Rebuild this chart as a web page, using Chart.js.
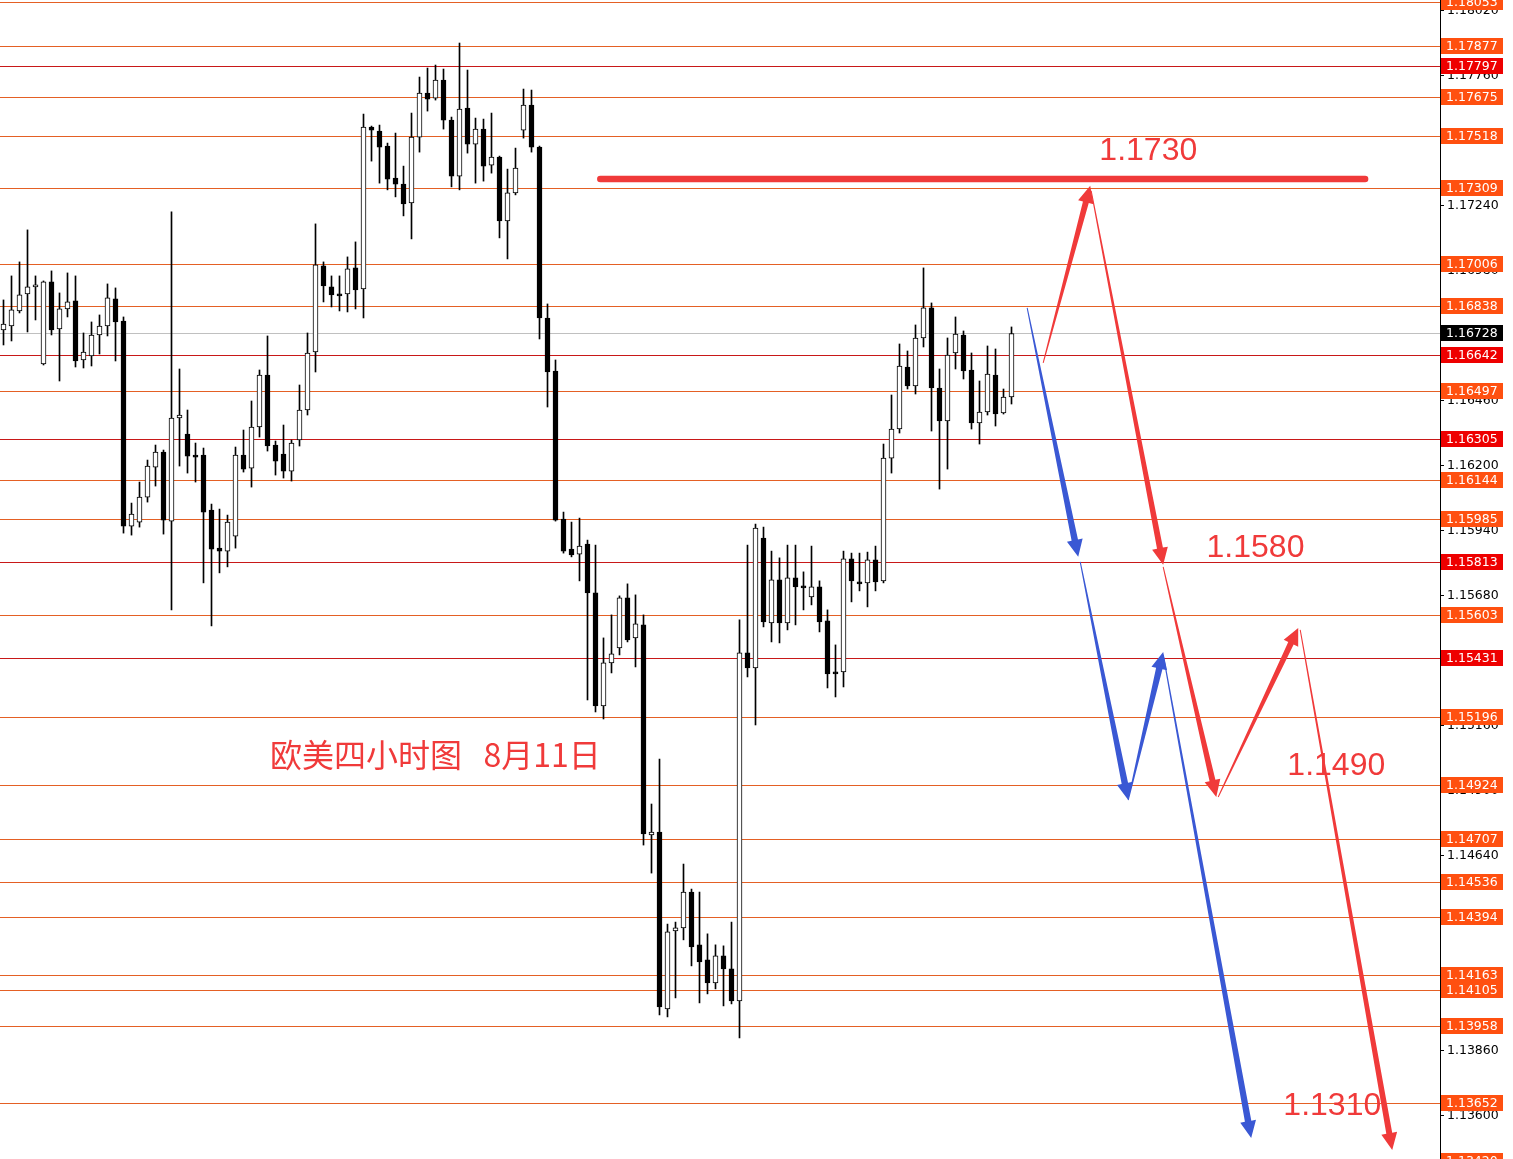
<!DOCTYPE html>
<html><head><meta charset="utf-8">
<script src="https://cdn.jsdelivr.net/npm/chart.js@4.4.1/dist/chart.umd.min.js"></script>
<style>html,body{margin:0;padding:0;background:#fff;overflow:hidden}#wrap{position:relative;width:1513px;height:1159px}</style>
</head><body><div id="wrap"><canvas id="c"></canvas></div>
<script>
// ---- data ----
const categories = Array.from({length: 127}, (_, i) => i); // candle index (4H bars)
const open = [1.16742,1.16758,1.16818,1.16886,1.16914,1.16606,1.16934,1.16746,1.16826,1.16858,
1.16622,1.16638,1.16722,1.16758,1.16866,1.16778,1.15958,1.15974,1.16074,1.16194,
1.16254,1.15978,1.16390,1.16326,1.16242,1.16242,1.16022,1.15870,1.15858,1.15918,
1.16242,1.16190,1.16354,1.16562,1.16282,1.16246,1.16178,1.16302,1.16422,1.16654,
1.16998,1.16914,1.16886,1.16886,1.16990,1.16906,1.17553,1.17537,1.17477,1.17349,
1.17325,1.17250,1.17513,1.17689,1.17669,1.17741,1.17581,1.17357,1.17629,1.17485,
1.17545,1.17401,1.17433,1.17178,1.17290,1.17541,1.17641,1.17473,1.16790,1.16578,
1.15986,1.15866,1.15846,1.15886,1.15691,1.15239,1.15411,1.15471,1.15671,1.15511,
1.15563,1.14723,1.14735,1.14028,1.14340,1.14352,1.14495,1.14284,1.14224,1.14132,
1.14240,1.14188,1.14060,1.15451,1.15391,1.15910,1.15571,1.15743,1.15571,1.15751,
1.15719,1.15675,1.15715,1.15579,1.15375,1.15375,1.15827,1.15735,1.15731,1.15823,
1.15739,1.16230,1.16346,1.16594,1.16518,1.16710,1.16830,1.16510,1.16378,1.16650,
1.16722,1.16582,1.16370,1.16414,1.16562,1.16410,1.16474];
const high = [1.16862,1.16958,1.17014,1.17142,1.16958,1.16938,1.16978,1.16890,1.16970,1.16958,
1.16730,1.16774,1.16802,1.16926,1.16910,1.16794,1.16050,1.16134,1.16222,1.16282,
1.16262,1.17214,1.16586,1.16422,1.16290,1.16270,1.16046,1.16026,1.16002,1.16274,
1.16342,1.16458,1.16582,1.16718,1.16298,1.16362,1.16302,1.16522,1.16730,1.17166,
1.17014,1.16958,1.16958,1.17034,1.17094,1.17605,1.17557,1.17561,1.17489,1.17529,
1.17397,1.17609,1.17753,1.17789,1.17801,1.17785,1.17593,1.17889,1.17781,1.17589,
1.17585,1.17609,1.17437,1.17385,1.17469,1.17705,1.17701,1.17477,1.16846,1.16622,
1.16014,1.15974,1.15990,1.15902,1.15882,1.15511,1.15603,1.15679,1.15727,1.15683,
1.15603,1.14847,1.15027,1.14367,1.14375,1.14607,1.14507,1.14495,1.14328,1.14284,
1.14280,1.14375,1.15583,1.15882,1.15966,1.15954,1.15858,1.15831,1.15882,1.15882,
1.15775,1.15878,1.15739,1.15623,1.15483,1.15858,1.15850,1.15850,1.15854,1.15878,
1.16286,1.16482,1.16686,1.16658,1.16762,1.16990,1.16850,1.16586,1.16710,1.16794,
1.16738,1.16650,1.16538,1.16678,1.16666,1.16506,1.16754];
const low = [1.16682,1.16698,1.16810,1.16734,1.16782,1.16602,1.16722,1.16538,1.16794,1.16594,
1.16590,1.16598,1.16646,1.16718,1.16618,1.15930,1.15922,1.15954,1.16054,1.16118,
1.15926,1.15623,1.16198,1.16170,1.16134,1.15731,1.15559,1.15771,1.15795,1.15870,
1.16174,1.16114,1.16314,1.16258,1.16162,1.16150,1.16138,1.16278,1.16402,1.16574,
1.16854,1.16834,1.16818,1.16814,1.16826,1.16790,1.17417,1.17329,1.17302,1.17274,
1.17198,1.17106,1.17453,1.17617,1.17661,1.17545,1.17314,1.17302,1.17449,1.17329,
1.17337,1.17369,1.17110,1.17026,1.17282,1.17509,1.17453,1.16706,1.16434,1.15978,
1.15850,1.15835,1.15739,1.15263,1.15215,1.15187,1.15371,1.15443,1.15495,1.15395,
1.14683,1.14571,1.14004,1.13996,1.14072,1.14304,1.14200,1.14052,1.14088,1.14108,
1.14040,1.14048,1.13912,1.15355,1.15163,1.15555,1.15495,1.15491,1.15543,1.15563,
1.15623,1.15643,1.15535,1.15311,1.15275,1.15315,1.15655,1.15699,1.15635,1.15699,
1.15731,1.16170,1.16330,1.16506,1.16486,1.16674,1.16338,1.16106,1.16186,1.16586,
1.16546,1.16346,1.16286,1.16402,1.16358,1.16406,1.16446];
const close = [1.16766,1.16822,1.16882,1.16914,1.16922,1.16934,1.16742,1.16826,1.16854,1.16618,
1.16654,1.16722,1.16758,1.16870,1.16774,1.15958,1.16006,1.16074,1.16198,1.16254,
1.15982,1.16390,1.16402,1.16238,1.16234,1.16014,1.15866,1.15858,1.15974,1.16242,
1.16186,1.16354,1.16562,1.16278,1.16218,1.16178,1.16290,1.16422,1.16650,1.17002,
1.16918,1.16882,1.16878,1.16986,1.16902,1.17553,1.17541,1.17473,1.17345,1.17325,
1.17246,1.17513,1.17689,1.17665,1.17741,1.17581,1.17357,1.17625,1.17485,1.17545,
1.17397,1.17433,1.17178,1.17290,1.17389,1.17641,1.17473,1.16790,1.16574,1.15982,
1.15858,1.15843,1.15878,1.15691,1.15239,1.15411,1.15447,1.15671,1.15503,1.15567,
1.14727,1.14735,1.14036,1.14336,1.14352,1.14495,1.14276,1.14216,1.14132,1.14240,
1.14188,1.14060,1.15451,1.15391,1.15950,1.15575,1.15743,1.15571,1.15751,1.15715,
1.15711,1.15715,1.15575,1.15367,1.15367,1.15827,1.15739,1.15727,1.15823,1.15735,
1.16230,1.16346,1.16598,1.16518,1.16710,1.16830,1.16510,1.16378,1.16642,1.16726,
1.16578,1.16370,1.16414,1.16566,1.16406,1.16474,1.16728];

const levels = [1.18053,1.17877,1.17797,1.17675,1.17518,1.17309,1.17006,1.16838,1.16642,1.16497,
1.16305,1.16144,1.15985,1.15813,1.15603,1.15431,1.15196,1.14924,1.14707,1.14536,
1.14394,1.14163,1.14105,1.13958,1.13652,1.13420];
const redLevels = [1.17797,1.16642,1.16305,1.15813,1.15431];
const currentPrice = 1.16728;
const yTickValues = [1.18020,1.17760,1.17500,1.17240,1.16980,1.16720,1.16460,1.16200,1.15940,1.15680,
1.15420,1.15160,1.14900,1.14640,1.14380,1.14120,1.13860,1.13600];

// forecast annotations in (bar index, price)
const redTarget = {from: [74.6, 1.17345], to: [170.2, 1.17345]};
const redPath = [
  [[129.96,1.16610],[135.84,1.17318]],
  [[135.96,1.17298],[144.96,1.15803]],
  [[144.96,1.15795],[151.6,1.14875]],
  [[151.84,1.14875],[161.84,1.15551]],
  [[162.09,1.15543],[173.59,1.13464]]
];
const bluePath = [
  [[127.96,1.16830],[134.34,1.15835]],
  [[134.59,1.15815],[140.59,1.14863]],
  [[140.59,1.14863],[144.96,1.15455]],
  [[144.96,1.15443],[155.96,1.13512]]
];
const priceNotes = [
  {text:'1.1730', at:[143.1,1.17455]},
  {text:'1.1580', at:[156.5,1.15870]},
  {text:'1.1490', at:[166.6,1.15000]},
  {text:'1.1310', at:[166.1,1.13640]}
];
const titleNote = {text:'欧美四小时图   8月11日', at:[33.3,1.15043]};

// ---- styling ----
const ORANGE_LINE = 'rgb(228,96,36)', RED_LINE = 'rgb(200,24,24)';
const ORANGE_BOX = 'rgb(255,80,16)', RED_BOX = 'rgb(238,0,0)';
const ARROW_RED = 'rgb(240,58,58)', ARROW_BLUE = 'rgb(58,88,212)';

const levelPlugin = {
  id: 'levels',
  beforeDatasetsDraw(chart) {
    const {ctx, chartArea: a, scales: {y}} = chart;
    ctx.save();
    ctx.lineWidth = 1;
    const py = Math.round(y.getPixelForValue(currentPrice)) + 0.5;
    ctx.strokeStyle = '#c0c0c0';
    ctx.beginPath(); ctx.moveTo(a.left, py); ctx.lineTo(a.right, py); ctx.stroke();
    levels.forEach(v => {
      const p = Math.round(y.getPixelForValue(v)) + 0.5;
      ctx.strokeStyle = redLevels.includes(v) ? RED_LINE : ORANGE_LINE;
      ctx.beginPath(); ctx.moveTo(a.left, p); ctx.lineTo(a.right, p); ctx.stroke();
    });
    ctx.restore();
  },
  afterDraw(chart) {
    const {ctx, chartArea: a, scales: {y}} = chart;
    ctx.save();
    ctx.font = '12.5px "DejaVu Sans"';
    ctx.textBaseline = 'middle';
    const box = (v, fill) => {
      const p = Math.round(y.getPixelForValue(v));
      ctx.fillStyle = fill;
      ctx.fillRect(a.right + 1, p - 8, 62, 16);
      ctx.fillStyle = '#fff';
      ctx.fillText(v.toFixed(5), a.right + 6, p + 0.5);
    };
    levels.forEach(v => box(v, redLevels.includes(v) ? RED_BOX : ORANGE_BOX));
    box(currentPrice, '#000');
    ctx.restore();
  }
};

function taperArrow(ctx, x0, y0, x1, y1, w0, w1, headLen, headHalf, color) {
  const dx = x1 - x0, dy = y1 - y0, L = Math.hypot(dx, dy);
  const ux = dx / L, uy = dy / L, nx = -uy, ny = ux;
  const bx = x1 - ux * headLen, by = y1 - uy * headLen;
  ctx.fillStyle = color;
  ctx.beginPath();
  ctx.moveTo(x0 + nx * w0 / 2, y0 + ny * w0 / 2);
  ctx.lineTo(bx + nx * w1 / 2, by + ny * w1 / 2);
  ctx.lineTo(bx + nx * headHalf, by + ny * headHalf);
  ctx.lineTo(x1, y1);
  ctx.lineTo(bx - nx * headHalf, by - ny * headHalf);
  ctx.lineTo(bx - nx * w1 / 2, by - ny * w1 / 2);
  ctx.lineTo(x0 - nx * w0 / 2, y0 - ny * w0 / 2);
  ctx.closePath();
  ctx.fill();
}

const notesPlugin = {
  id: 'notes',
  afterDatasetsDraw(chart) {
    const {ctx, scales: {x, y}} = chart;
    const P = pt => [x.getPixelForValue(pt[0]), y.getPixelForValue(pt[1])];
    ctx.save();
    const a = P(redTarget.from), b = P(redTarget.to);
    ctx.strokeStyle = ARROW_RED; ctx.lineWidth = 6.5; ctx.lineCap = 'round';
    ctx.beginPath(); ctx.moveTo(a[0], a[1]); ctx.lineTo(b[0], b[1]); ctx.stroke();
    redPath.forEach(s => { const p = P(s[0]), q = P(s[1]); taperArrow(ctx, p[0], p[1], q[0], q[1], 1, 6, 17, 8, ARROW_RED); });
    bluePath.forEach(s => { const p = P(s[0]), q = P(s[1]); taperArrow(ctx, p[0], p[1], q[0], q[1], 1, 6.5, 17, 8, ARROW_BLUE); });
    ctx.fillStyle = ARROW_RED;
    ctx.textBaseline = 'middle';
    ctx.textAlign = 'center';
    ctx.font = '32px "Liberation Sans", Arial, sans-serif';
    priceNotes.forEach(n => { const p = P(n.at); ctx.fillText(n.text, p[0], p[1]); });
    ctx.textAlign = 'left';
    ctx.font = '32px "Noto Sans CJK SC", sans-serif';
    const t = P(titleNote.at);
    ctx.fillText(titleNote.text, t[0], t[1]);
    ctx.restore();
  }
};

const bodies = categories.map(i => ({x: i, y: [open[i], close[i]]}));
const wicks = categories.map(i => ({x: i, y: [low[i], high[i]]}));

new Chart(document.getElementById('c'), {
  type: 'bar',
  data: {
    datasets: [
      {label: 'body', data: bodies, order: 0, barThickness: 5, grouped: false,
       backgroundColor: categories.map(i => close[i] >= open[i] ? '#ffffff' : '#000000'),
       borderColor: '#000', borderWidth: 1, borderSkipped: false},
      {label: 'wick', data: wicks, order: 1, barThickness: 1, grouped: false,
       backgroundColor: '#000', borderWidth: 0}
    ]
  },
  options: {
    responsive: true, maintainAspectRatio: false, animation: false,
    layout: {padding: 0},
    plugins: {legend: {display: false}, tooltip: {enabled: false}},
    scales: {
      x: {type: 'linear', min: -0.4375, max: 179.5625, display: false, offset: false},
      y: {
        position: 'right', min: 1.13428, max: 1.18061,
        afterBuildTicks: s => { s.ticks = yTickValues.map(v => ({value: v})); },
        afterFit: s => { s.width = 73; s.paddingTop = 0; s.paddingBottom = 0; },
        grid: {display: true, drawOnChartArea: false, drawTicks: true, tickLength: 4, color: '#000'},
        border: {display: true, color: '#000', width: 1},
        ticks: {padding: 3, color: '#000', font: {family: 'DejaVu Sans', size: 12.5},
                callback: v => Number(v).toFixed(5), autoSkip: false}
      }
    }
  },
  plugins: [levelPlugin, notesPlugin]
});
</script>
</body></html>
